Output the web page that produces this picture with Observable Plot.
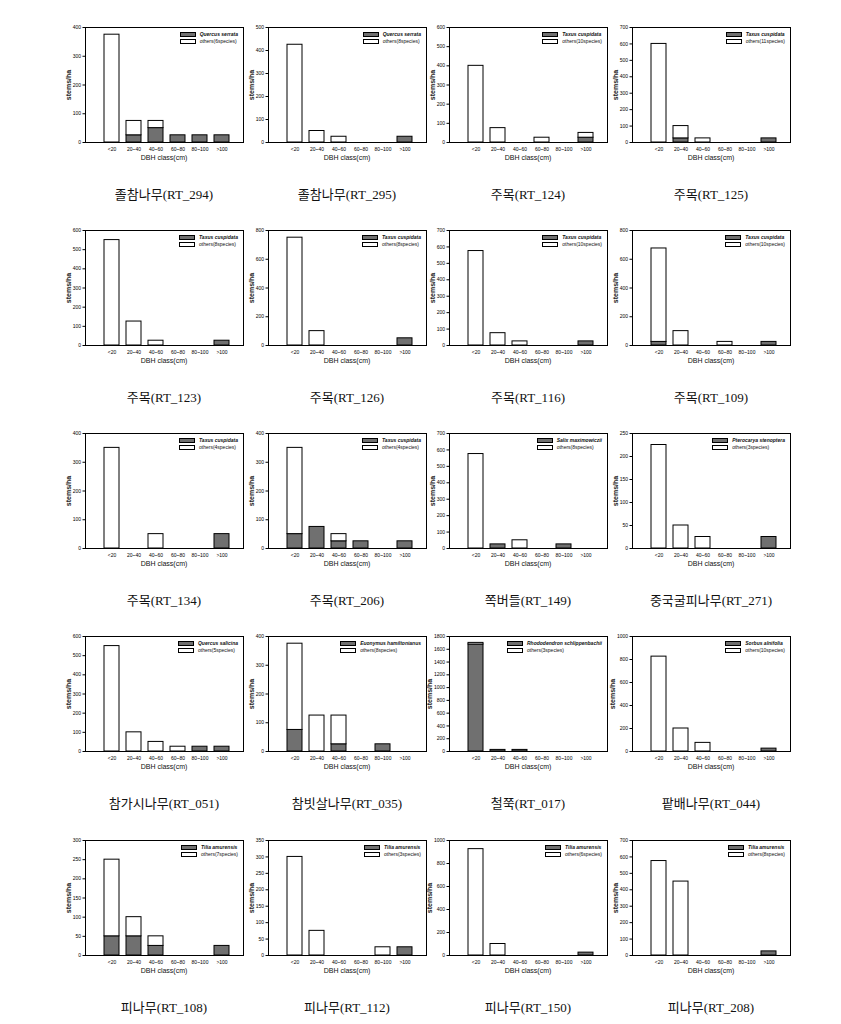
<!DOCTYPE html>
<html>
<head>
<meta charset="utf-8">
<script src="https://cdn.jsdelivr.net/npm/d3@7"></script>
<script src="https://cdn.jsdelivr.net/npm/@observablehq/plot@0.6"></script>
<style>
  html, body { margin: 0; padding: 0; background: #fff; }
  #chart { position: relative; width: 841px; height: 1024px; font-family: "Liberation Sans", Arial, sans-serif; }
  .panel { position: absolute; }
  .title { position: absolute; width: 240px; text-align: center; font-family: "Liberation Serif", "Noto Sans CJK KR", serif; font-size: 13px; color: #111; white-space: nowrap; }
  .legend { position: absolute; font-size: 5px; line-height: 7px; color: #111; white-space: nowrap; }
  .legend .row { display: flex; align-items: center; }
  .legend .sw { width: 14px; height: 3.5px; border: 0.8px solid #000; margin-right: 4px; }
  .legend i { font-style: italic; font-weight: bold; }
  .ylab { position: absolute; font-size: 7px; font-weight: bold; color: #222; transform: translate(-50%, -50%) rotate(-90deg); white-space: nowrap; }
</style>
</head>
<body>
<div id="chart"></div>
<script>
// ---- data ----
const classes = ["<20", "20~40", "40~60", "60~80", "80~100", ">100"];
const titles = [
  "졸참나무(RT_294)", "졸참나무(RT_295)", "주목(RT_124)", "주목(RT_125)",
  "주목(RT_123)", "주목(RT_126)", "주목(RT_116)", "주목(RT_109)",
  "주목(RT_134)", "주목(RT_206)", "쪽버들(RT_149)", "중국굴피나무(RT_271)",
  "참가시나무(RT_051)", "참빗살나무(RT_035)", "철쭉(RT_017)", "팥배나무(RT_044)",
  "피나무(RT_108)", "피나무(RT_112)", "피나무(RT_150)", "피나무(RT_208)"
];
const speciesNames = [
  "Quercus serrata", "Quercus serrata", "Taxus cuspidata", "Taxus cuspidata",
  "Taxus cuspidata", "Taxus cuspidata", "Taxus cuspidata", "Taxus cuspidata",
  "Taxus cuspidata", "Taxus cuspidata", "Salix maximowiczii", "Pterocarya stenoptera",
  "Quercus salicina", "Euonymus hamiltonianus", "Rhododendron schlippenbachii", "Sorbus alnifolia",
  "Tilia amurensis", "Tilia amurensis", "Tilia amurensis", "Tilia amurensis"
];
const othersLabels = [
  "others(6species)", "others(8species)", "others(10species)", "others(11species)",
  "others(8species)", "others(8species)", "others(10species)", "others(10species)",
  "others(4species)", "others(4species)", "others(8species)", "others(3species)",
  "others(5species)", "others(8species)", "others(3species)", "others(10species)",
  "others(7species)", "others(3species)", "others(6species)", "others(8species)"
];
const yMax =  [400, 500, 600, 700, 600, 800, 700, 800, 400, 400, 700, 250, 600, 400, 1800, 1000, 300, 350, 1000, 700];
const yStep = [100, 100, 100, 100, 100, 200, 100, 200, 100, 100, 100, 50, 100, 100, 200, 200, 50, 50, 200, 100];
const speciesValues = [
  [0, 25, 50, 25, 25, 25],
  [0, 0, 0, 0, 0, 25],
  [0, 0, 0, 0, 0, 25],
  [0, 25, 0, 0, 0, 25],
  [0, 0, 0, 0, 0, 25],
  [0, 0, 0, 0, 0, 50],
  [0, 0, 0, 0, 0, 25],
  [25, 0, 0, 0, 0, 25],
  [0, 0, 0, 0, 0, 50],
  [50, 75, 25, 25, 0, 25],
  [0, 25, 0, 0, 25, 0],
  [0, 0, 0, 0, 0, 25],
  [0, 0, 0, 0, 25, 25],
  [75, 0, 25, 0, 25, 0],
  [1675, 25, 25, 0, 0, 0],
  [0, 0, 0, 0, 0, 25],
  [50, 50, 25, 0, 0, 25],
  [0, 0, 0, 0, 0, 25],
  [0, 0, 0, 0, 0, 25],
  [0, 0, 0, 0, 0, 25]
];
const othersValues = [
  [375, 50, 25, 0, 0, 0],
  [425, 50, 25, 0, 0, 0],
  [400, 75, 0, 25, 0, 25],
  [600, 75, 25, 0, 0, 0],
  [550, 125, 25, 0, 0, 0],
  [750, 100, 0, 0, 0, 0],
  [575, 75, 25, 0, 0, 0],
  [650, 100, 0, 25, 0, 0],
  [350, 0, 50, 0, 0, 0],
  [300, 0, 25, 0, 0, 0],
  [575, 0, 50, 0, 0, 0],
  [225, 50, 25, 0, 0, 0],
  [550, 100, 50, 25, 0, 0],
  [300, 125, 100, 0, 0, 0],
  [25, 0, 0, 0, 0, 0],
  [825, 200, 75, 0, 0, 0],
  [200, 50, 25, 0, 0, 0],
  [300, 75, 0, 0, 25, 0],
  [925, 100, 0, 0, 0, 0],
  [575, 450, 0, 0, 0, 0]
];

// ---- layout ----
const colLeft = [85, 268, 449, 632];
const rowTop = [27, 230, 433, 636, 840];
const frameW = 158, frameH = 115;
const mL = 32, mT = 4, mR = 4, mB = 28;
const speciesColor = "#707070";

const chart = document.getElementById("chart");

titles.forEach((title, i) => {
  const col = i % 4, row = Math.floor(i / 4);
  const fx = colLeft[col], fy = rowTop[row];
  const data = [];
  classes.forEach((c, j) => {
    if (speciesValues[i][j] > 0) data.push({cls: c, group: "species", v: speciesValues[i][j]});
    if (othersValues[i][j] > 0) data.push({cls: c, group: "others", v: othersValues[i][j]});
  });
  const svg = Plot.plot({
    width: frameW + mL + mR,
    height: frameH + mT + mB,
    marginLeft: mL, marginRight: mR, marginTop: mT, marginBottom: mB,
    style: {fontFamily: "Liberation Sans, Arial, sans-serif", fontSize: "5px", background: "transparent", overflow: "visible"},
    x: {domain: classes, padding: 0.32, insetLeft: 11, insetRight: 7},
    y: {domain: [0, yMax[i]]},
    color: {domain: ["species", "others"], range: [speciesColor, "white"]},
    marks: [
      Plot.barY(data, {x: "cls", y: "v", fill: "group", stroke: "black", strokeWidth: 1, order: ["species", "others"]}),
      Plot.frame({stroke: "black", strokeWidth: 1}),
      Plot.axisY({ticks: d3.range(0, yMax[i] + 1, yStep[i]), tickSize: 2.5, tickPadding: 2, tickFormat: d3.format("d"),
        label: null, fontSize: "5px"}),
      Plot.axisX({tickSize: 0, tickPadding: 5, label: null, fontSize: "5px"})
    ]
  });
  svg.classList.add("panel");
  svg.style.left = (fx - mL) + "px";
  svg.style.top = (fy - mT) + "px";
  chart.appendChild(svg);

  const digits = String(yMax[i]).length;
  const yl = document.createElement("div");
  yl.className = "ylab";
  yl.textContent = "stems/ha";
  yl.style.left = (fx - (9 + digits * 2.8)) + "px";
  yl.style.top = (fy + frameH / 2) + "px";
  chart.appendChild(yl);

  const xl = document.createElement("div");
  xl.className = "title";
  xl.style.fontFamily = "Liberation Sans, Arial, sans-serif";
  xl.style.fontSize = "7px";
  xl.textContent = "DBH class(cm)";
  xl.style.left = (fx + frameW / 2 - 120) + "px";
  xl.style.top = (fy + frameH + 12) + "px";
  chart.appendChild(xl);

  const lg = document.createElement("div");
  lg.className = "legend";
  lg.style.right = (841 - (fx + frameW - 5)) + "px";
  lg.style.top = (fy + 4) + "px";
  lg.innerHTML =
    `<div class="row"><span class="sw" style="background:${speciesColor}"></span><i>${speciesNames[i]}</i></div>` +
    `<div class="row"><span class="sw" style="background:#fff"></span><span>${othersLabels[i]}</span></div>`;
  chart.appendChild(lg);

  const tt = document.createElement("div");
  tt.className = "title";
  tt.textContent = title;
  tt.style.left = (fx + frameW / 2 - 120) + "px";
  tt.style.top = (fy + 157) + "px";
  chart.appendChild(tt);
});
</script>
</body>
</html>
